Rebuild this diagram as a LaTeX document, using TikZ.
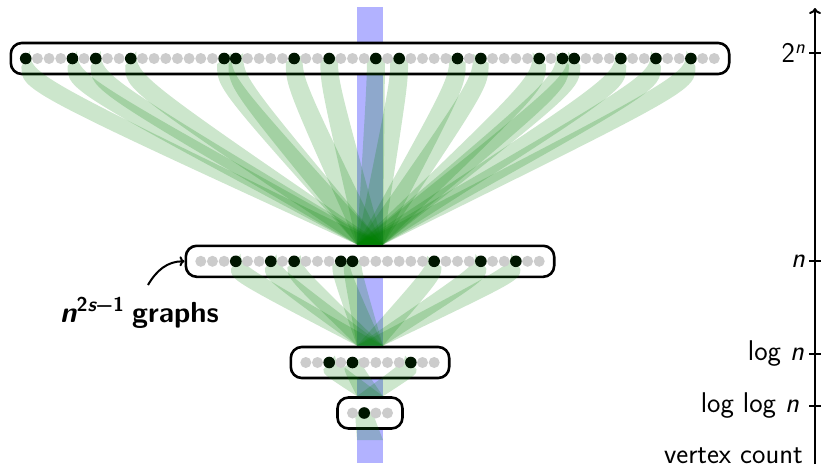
\documentclass[tikz,border=0pt]{standalone}
\usepackage{fontspec}
\usetikzlibrary{arrows.meta,calc}
\definecolor{dotblack}{RGB}{0,22,0}
\newcommand\greenband[3]{%
  \fill[band] ($(#1)!9pt!-90:(#2)$) .. controls ($($(#1)!9pt!-90:(#2)$)+(0,#3)$) .. ($(#2)+(-13,0)$)
     -- ($(#2)+(13,0)$) .. controls ($($(#1)!9pt!90:(#2)$)+(0,#3)$) .. ($(#1)!9pt!90:(#2)$) -- cycle;}
\begin{document}
\begin{tikzpicture}[x=1pt,y=-1pt,
  rowbox/.style={draw=black, line width=2.6pt, fill=white, rounded corners=11pt, inner sep=0pt, minimum height=31pt},
  gdot/.style={circle, fill=black!20, inner sep=0pt, minimum size=11pt},
  bdot/.style={circle, fill=dotblack, inner sep=0pt, minimum size=11.6pt},
  band/.style={fill=green!50!black, fill opacity=0.2},
  axlbl/.style={font=\sffamily\fontsize{28.5}{32}\selectfont, anchor=east, inner sep=0pt},
  axline/.style={line width=2pt}]
\useasboundingbox (0,0) rectangle (822,469);
% blue column
\fill[blue!30] (357,7) rectangle (383,463);
% row boxes
\node[rowbox, minimum width=718.4pt] (top) at (370,58.5) {};
\node[rowbox, minimum width=368.4pt] (mid) at (370,261.3) {};
\node[rowbox, minimum width=158.4pt] (lgn) at (370,362.5) {};
\node[rowbox, minimum width=65pt] (lglgn) at (370,413) {};
\coordinate (sink) at (370,440);
% dot positions
\foreach \i in {0,...,59} {\coordinate (t\i) at ({370+(\i-29.5)*11.67},58.5);}
\foreach \i in {0,...,29} {\coordinate (m\i) at ({370+(\i-14.5)*11.67},261.3);}
\foreach \i in {0,...,11} {\coordinate (l\i) at ({370+(\i-5.5)*11.67},362.5);}
\foreach \i in {0,...,3} {\coordinate (b\i) at ({370+(\i-1.5)*11.67},413);}
% bands
\foreach \i in {0,4,6,9,17,18,23,26,30,32,37,39,44,46,47,51,54,57} {\greenband{t\i}{mid.north}{24}}
\foreach \i in {3,6,8,12,13,20,24,27} {\greenband{m\i}{lgn.north}{11}}
\foreach \i in {2,4,9} {\greenband{l\i}{lglgn.north}{5}}
\greenband{b1}{sink}{3}
% dots
\foreach \i in {0,...,59} {\node[gdot] (gt\i) at (t\i) {};}
\foreach \i in {0,...,29} {\node[gdot] (gm\i) at (m\i) {};}
\foreach \i in {0,...,11} {\node[gdot] (gl\i) at (l\i) {};}
\foreach \i in {0,...,3} {\node[gdot] (gb\i) at (b\i) {};}
\foreach \i in {0,4,6,9,17,18,23,26,30,32,37,39,44,46,47,51,54,57} {\node[bdot] (bt\i) at (t\i) {};}
\foreach \i in {3,6,8,12,13,20,24,27} {\node[bdot] (bm\i) at (m\i) {};}
\foreach \i in {2,4,9} {\node[bdot] (bl\i) at (l\i) {};}
\node[bdot] (bb1) at (b1) {};
% axis
\coordinate (axb) at (815,464);
\coordinate (axt) at (815,8);
\draw[axline, -{To[length=6pt,width=12pt]}] (axb) -- (axt);
\foreach \y in {53,261,354,406} {\draw[axline] (809,\y) -- (821,\y);}
\node[axlbl] (l2n) at (805,53) {2\raisebox{9pt}{\fontsize{20}{20}\selectfont\itshape n}};
\node[axlbl] (ln) at (805,261) {\itshape n};
\node[axlbl] (llogn) at (804,354) {log \itshape n};
\node[axlbl] (lloglogn) at (799,406) {log log \itshape n};
\node[axlbl, anchor=base east] (lvc) at (803,463) {vertex count};
% label and arrow
\node[font=\sffamily\bfseries\fontsize{29}{34}\selectfont, anchor=base east, inner sep=0pt] (lbl) at (219,322)
  {{\itshape n}\raisebox{11pt}{\fontsize{20}{20}\selectfont 2{\itshape s}−1}\hspace{8pt}graphs};
\coordinate (arrs) at (148,285);
\draw[axline, -{To[length=5pt,width=10pt]}] (arrs) to[out=60, in=180] (mid.west);
\end{tikzpicture}
\end{document}
